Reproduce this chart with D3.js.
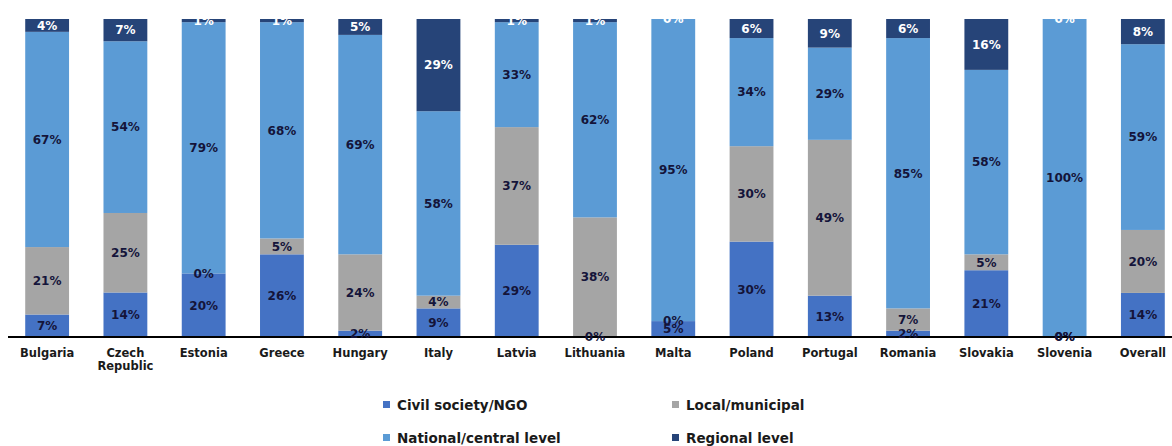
<!DOCTYPE html>
<html>
<head>
<meta charset="utf-8">
<script src="https://cdn.jsdelivr.net/npm/d3@7"></script>
<style>
  html, body { margin: 0; padding: 0; background: #fff; }
  svg { display: block; }
  text { font-family: "DejaVu Sans", Verdana, sans-serif; font-weight: bold; }
</style>
</head>
<body>
<svg id="chart" width="1172" height="446"></svg>
<script>
// Categories (countries) and the share of each level per country, in percent
const countries = ["Bulgaria", "Czech Republic", "Estonia", "Greece", "Hungary", "Italy", "Latvia",
  "Lithuania", "Malta", "Poland", "Portugal", "Romania", "Slovakia", "Slovenia", "Overall"];
const civilSociety = [7, 14, 20, 26, 2, 9, 29, 0, 5, 30, 13, 2, 21, 0, 14];
const localMunicipal = [21, 25, 0, 5, 24, 4, 37, 38, 0, 30, 49, 7, 5, 0, 20];
const nationalCentral = [67, 54, 79, 68, 69, 58, 33, 62, 95, 34, 29, 85, 58, 100, 59];
const regionalLevel = [4, 7, 1, 1, 5, 29, 1, 1, 0, 6, 9, 6, 16, 0, 8];

const seriesNames = ["Civil society/NGO", "Local/municipal", "National/central level", "Regional level"];
const seriesKeys = ["civil", "local", "national", "regional"];
const colors = ["#4472C4", "#A5A5A5", "#5B9BD5", "#264478"];
const labelColors = ["#14143a", "#14143a", "#14143a", "#ffffff"];

const rows = countries.map((c, i) => ({
  country: c,
  civil: civilSociety[i],
  local: localMunicipal[i],
  national: nationalCentral[i],
  regional: regionalLevel[i]
}));

const svg = d3.select("#chart");
const plotTop = 19, plotBottom = 337;

const x = d3.scaleBand().domain(countries).range([8, 1182]).paddingInner(0.44).paddingOuter(0.22);
const y = d3.scaleLinear().domain([0, 1]).range([plotBottom, plotTop]);

const stacked = d3.stack().keys(seriesKeys).offset(d3.stackOffsetExpand)(rows);

svg.append("defs").append("clipPath").attr("id", "clip")
  .append("rect").attr("x", 0).attr("y", plotTop).attr("width", 1172).attr("height", 446 - plotTop);

const bars = svg.append("g");
stacked.forEach((layer, li) => {
  bars.append("g").attr("fill", colors[li])
    .selectAll("rect").data(layer).join("rect")
    .attr("x", d => x(d.data.country))
    .attr("width", x.bandwidth())
    .attr("y", d => y(d[1]))
    .attr("height", d => Math.max(0, y(d[0]) - y(d[1])));
});

// Axis baseline
svg.append("line")
  .attr("x1", 8).attr("x2", 1172)
  .attr("y1", plotBottom).attr("y2", plotBottom)
  .attr("stroke", "#000").attr("stroke-width", 2);

// Segment value labels
const labels = svg.append("g").attr("clip-path", "url(#clip)");
stacked.forEach((layer, li) => {
  labels.append("g")
    .selectAll("text").data(layer).join("text")
    .attr("x", d => x(d.data.country) + x.bandwidth() / 2)
    .attr("y", d => (y(d[0]) + y(d[1])) / 2)
    .attr("dy", "0.36em")
    .attr("text-anchor", "middle")
    .attr("font-size", 12)
    .attr("fill", labelColors[li])
    .text(d => d.data[seriesKeys[li]] + "%");
});

// Category axis labels
const xAxis = svg.append("g");
countries.forEach(c => {
  const parts = c === "Czech Republic" ? ["Czech", "Republic"] : [c];
  const t = xAxis.append("text")
    .attr("x", x(c) + x.bandwidth() / 2)
    .attr("y", 357)
    .attr("text-anchor", "middle")
    .attr("font-size", 11.5)
    .attr("fill", "#1a1a1a");
  parts.forEach((p, i) => {
    t.append("tspan").attr("x", x(c) + x.bandwidth() / 2).attr("dy", i === 0 ? 0 : 13).text(p);
  });
});

// Legend
const legendPos = [[383, 405], [672, 405], [383, 438], [672, 438]];
const legend = svg.append("g");
seriesNames.forEach((name, i) => {
  const [lx, ly] = legendPos[i];
  legend.append("rect").attr("x", lx).attr("y", ly - 4).attr("width", 7).attr("height", 7).attr("fill", colors[i]);
  legend.append("text").attr("x", lx + 14).attr("y", ly).attr("dy", "0.36em")
    .attr("font-size", 13.5).attr("fill", "#1a1a1a").text(name);
});
</script>
</body>
</html>
